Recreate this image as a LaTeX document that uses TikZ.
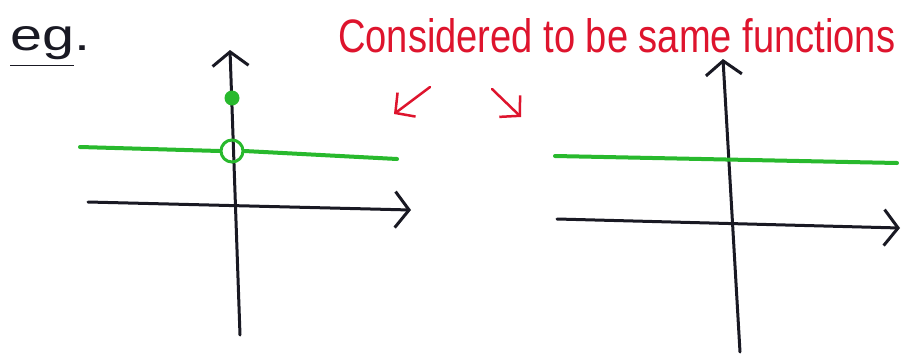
\documentclass[tikz,border=0pt]{standalone}
\usepackage{fontspec}
\setmainfont{Liberation Sans}
\usetikzlibrary{arrows.meta}
\definecolor{pen}{RGB}{25,25,35}
\definecolor{redpen}{RGB}{222,20,45}
\definecolor{greenpen}{RGB}{40,185,45}
\tikzset{
  axis/.style={pen, line width=3pt, line cap=round, -{Straight Barb[length=14pt,width=36pt,line width=3pt]}},
  graph/.style={greenpen, line width=4pt, line cap=round},
  redarrow/.style={redpen, line width=2.5pt, line cap=round, -{Straight Barb[length=14pt,width=30pt,line width=2.5pt]}},
  lbl/.style={inner sep=0pt, anchor=base west}
}
\begin{document}
\begin{tikzpicture}[x=1pt,y=-1pt]
\useasboundingbox[fill=white] (0,0) rectangle (906,357);
% labels
\node[lbl, pen] (eg) at (10,50) {\resizebox{80pt}{24pt}{\underline{eg}.}};
\node[lbl, redpen] (title) at (338,52) {\resizebox{557pt}{34pt}{Considered to be same functions}};
% red arrows
\coordinate (la1) at (430,87);
\coordinate (la2) at (394,114);
\coordinate (ra1) at (492,89);
\coordinate (ra2) at (521,117);
\draw[redarrow] (la1) -- (la2);
\draw[redarrow] (ra1) -- (ra2);
% left plot
\coordinate (lxa) at (88,202);
\coordinate (lxb) at (411,210);
\coordinate (lya) at (240,335);
\coordinate (lyb) at (230,50);
\draw[axis] (lxa) -- (lxb);
\draw[axis] (lya) -- (lyb);
\coordinate (lga) at (80,147);
\coordinate (lgb) at (397,159);
\node[draw=greenpen, line width=3pt, circle, minimum size=22pt, inner sep=0pt] (hole) at (232,151) {};
\draw[graph] (lga) -- (hole.west);
\draw[graph] (hole.east) -- (lgb);
\node[fill=greenpen, circle, minimum size=15pt, inner sep=0pt] (dot) at (232,98) {};
% right plot
\coordinate (rxa) at (557,219);
\coordinate (rxb) at (900,228);
\coordinate (rya) at (740,352);
\coordinate (ryb) at (723,59);
\draw[axis] (rxa) -- (rxb);
\draw[axis] (rya) -- (ryb);
\coordinate (rga) at (555,156);
\coordinate (rgb) at (897,163);
\draw[graph] (rga) -- (rgb);
\end{tikzpicture}
\end{document}
